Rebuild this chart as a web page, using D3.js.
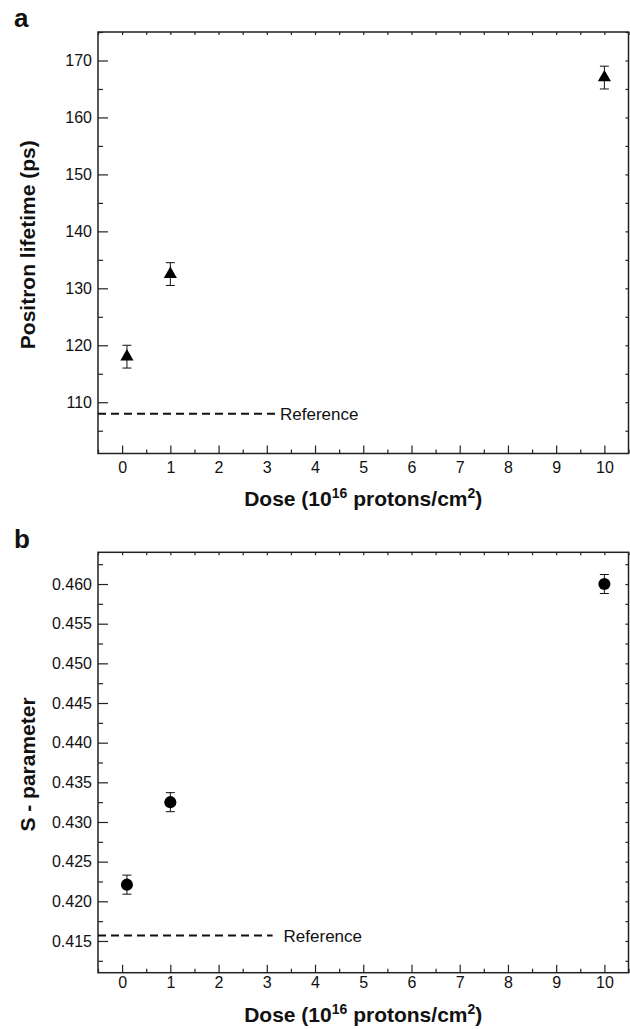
<!DOCTYPE html>
<html>
<head>
<meta charset="utf-8">
<script src="https://cdn.jsdelivr.net/npm/d3@7"></script>
<style>
  body { margin: 0; background: #fff; }
  svg { display: block; font-family: "Liberation Sans", Arial, Helvetica, sans-serif; }
</style>
</head>
<body>
<div id="chart"></div>
<script>
// data
const doses = [0.1, 1, 10];
const lifetime = [118, 132.5, 167];
const lifetimeErr = [2, 2, 2];
const sParam = [0.4221, 0.4325, 0.4600];
const sErr = [0.0012, 0.0012, 0.0012];
const lifetimeRef = 108;
const sRef = 0.4157;
const xTicks = d3.range(0, 11);

const W = 630, H = 1029;
const svg = d3.select("#chart").append("svg").attr("width", W).attr("height", H);

const x = d3.scaleLinear().domain([-0.5, 10.5]).range([98, 628.5]);

function drawPanel(opt) {
  const y = d3.scaleLinear().domain(opt.yDomain).range([opt.bottom, opt.top]);
  const g = svg.append("g");

  // minor ticks first
  const xMinor = d3.range(-0.5, 10.6, 1);
  g.append("g").attr("transform", `translate(0,${opt.bottom})`)
    .call(d3.axisBottom(x).tickValues(xMinor).tickSize(-4).tickFormat(""));
  g.append("g").attr("transform", `translate(0,${opt.top})`)
    .call(d3.axisTop(x).tickValues(d3.range(-0.5, 10.6, 0.5)).tickSize(-3).tickFormat(""));
  g.append("g").attr("transform", "translate(98,0)")
    .call(d3.axisLeft(y).tickValues(opt.yMinor).tickSize(-5).tickFormat(""));
  g.append("g").attr("transform", "translate(628.5,0)")
    .call(d3.axisRight(y).tickValues(opt.yMinor.concat(opt.yTicks)).tickSize(-3).tickFormat(""));

  // major ticks
  g.append("g").attr("class", "xa").attr("transform", `translate(0,${opt.bottom})`)
    .call(d3.axisBottom(x).tickValues(xTicks).tickSize(-8).tickPadding(opt.xPad));
  g.append("g").attr("class", "ya").attr("transform", "translate(98,0)")
    .call(d3.axisLeft(y).tickValues(opt.yTicks).tickSize(-10).tickPadding(6).tickFormat(opt.fmt));

  g.selectAll(".domain").remove();
  g.selectAll(".tick line").attr("stroke", "#222").attr("stroke-width", 1.2);
  g.selectAll(".tick text").attr("font-size", 16).attr("fill", "#111")
    .attr("font-family", "Liberation Sans, Arial, sans-serif");

  g.append("rect").attr("x", 98).attr("y", opt.top)
    .attr("width", 628.5 - 98).attr("height", opt.bottom - opt.top)
    .attr("fill", "none").attr("stroke", "#222").attr("stroke-width", 1.5);

  // reference line
  g.append("line")
    .attr("x1", x(-0.5)).attr("x2", x(opt.refEnd))
    .attr("y1", y(opt.ref)).attr("y2", y(opt.ref))
    .attr("stroke", "#111").attr("stroke-width", 2).attr("stroke-dasharray", "8,5");
  g.append("text").attr("x", x(opt.refEnd) + opt.refGap).attr("y", y(opt.ref))
    .attr("dy", "0.36em").attr("font-size", 17).attr("fill", "#111").text("Reference");

  // error bars
  const pts = doses.map((d, i) => ({ d: d, v: opt.values[i], e: opt.errs[i] }));
  const eb = g.append("g").attr("stroke", "#111").attr("stroke-width", 1);
  eb.selectAll(".stem").data(pts).enter().append("line")
    .attr("x1", p => x(p.d)).attr("x2", p => x(p.d))
    .attr("y1", p => y(p.v - p.e)).attr("y2", p => y(p.v + p.e));
  eb.selectAll(".capt").data(pts).enter().append("line")
    .attr("x1", p => x(p.d) - 4.5).attr("x2", p => x(p.d) + 4.5)
    .attr("y1", p => y(p.v + p.e)).attr("y2", p => y(p.v + p.e));
  eb.selectAll(".capb").data(pts).enter().append("line")
    .attr("x1", p => x(p.d) - 4.5).attr("x2", p => x(p.d) + 4.5)
    .attr("y1", p => y(p.v - p.e)).attr("y2", p => y(p.v - p.e));

  // markers
  g.selectAll(".pt").data(pts).enter().append("path")
    .attr("transform", p => `translate(${x(p.d)},${y(p.v)})`)
    .attr("d", d3.symbol().type(opt.symbol).size(opt.symSize))
    .attr("fill", "#000");

  // axis titles
  const xt = g.append("text").attr("x", (98 + 628.5) / 2).attr("y", opt.bottom + opt.titleOff)
    .attr("text-anchor", "middle").attr("font-size", 21).attr("font-weight", "bold").attr("fill", "#111");
  xt.append("tspan").text("Dose (10");
  xt.append("tspan").attr("font-size", 14).attr("dy", -8).text("16");
  xt.append("tspan").attr("dy", 8).text(" protons/cm");
  xt.append("tspan").attr("font-size", 14).attr("dy", -8).text("2");
  xt.append("tspan").attr("dy", 8).text(")");

  g.append("text")
    .attr("transform", `translate(35,${(opt.top + opt.bottom) / 2 + 2}) rotate(-90)`)
    .attr("text-anchor", "middle").attr("font-size", 21).attr("font-weight", "bold")
    .attr("fill", "#111").text(opt.yLabel);

  g.append("text").attr("x", 14).attr("y", opt.top - opt.letterOff)
    .attr("font-size", 26).attr("font-weight", "bold").attr("fill", "#111").text(opt.letter);
}

drawPanel({
  top: 32, bottom: 453.5,
  yDomain: [101, 175],
  yTicks: d3.range(110, 171, 10),
  yMinor: d3.range(105, 176, 10),
  fmt: d3.format("d"),
  values: lifetime, errs: lifetimeErr,
  ref: lifetimeRef, refEnd: 3.17, refGap: 5,
  symbol: d3.symbolTriangle, symSize: 75,
  xPad: 8, titleOff: 52.5,
  yLabel: "Positron lifetime (ps)",
  letter: "a", letterOff: 5
});

drawPanel({
  top: 552.3, bottom: 972.7,
  yDomain: [0.411, 0.464],
  yTicks: d3.range(0, 10).map(i => 0.415 + i * 0.005),
  yMinor: d3.range(0, 11).map(i => 0.4125 + i * 0.005),
  fmt: d3.format(".3f"),
  values: sParam, errs: sErr,
  ref: sRef, refEnd: 3.12, refGap: 11,
  symbol: d3.symbolCircle, symSize: 115,
  xPad: 4, titleOff: 49.5,
  yLabel: "S - parameter",
  letter: "b", letterOff: 4
});
</script>
</body>
</html>
